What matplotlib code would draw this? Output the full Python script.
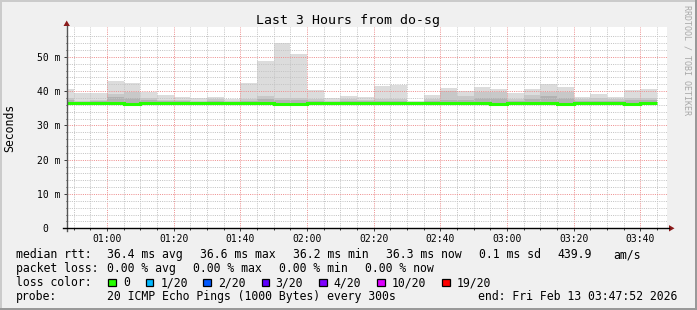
import matplotlib
matplotlib.use("Agg")
import matplotlib.pyplot as plt
import numpy as np
from matplotlib.patches import Rectangle, Polygon
from matplotlib.lines import Line2D

# ---------------- data (ms), one value per 5-minute step ----------------
step_start_min = 45          # first step starts 00:45
step_len_min = 5
view_start_min = 47 + 52/60  # 00:47:52
view_end_min = 227 + 52/60   # 03:47:52

rtt_max = [40.6, 39.5, 39.5, 43.0, 42.4, 39.6, 39.0, 38.3, 37.9, 38.3, 37.7, 42.4,
           48.8, 53.9, 50.8, 40.3, 38.0, 38.6, 38.2, 41.5, 41.9, 37.1, 38.9, 40.9,
           40.0, 41.2, 40.6, 39.4, 40.6, 42.1, 41.2, 38.3, 39.2, 38.3, 40.3, 40.6]
rtt_upper = [38.1, 37.1, 37.3, 39.1, 39.6, 38.1, 37.3, 37.3, 37.1, 37.6, 37.2, 37.8,
             38.6, 38.1, 38.1, 37.6, 37.2, 37.6, 37.3, 37.8, 37.8, 36.9, 37.6, 40.0,
             38.6, 39.6, 39.6, 37.8, 38.8, 39.6, 39.6, 37.6, 37.9, 37.6, 38.1, 38.1]
rtt_inner = [37.3, 36.9, 37.0, 38.3, 38.1, 37.3, 37.0, 37.0, 36.9, 37.2, 36.9, 37.2,
             37.6, 37.3, 37.3, 37.1, 36.9, 37.1, 37.0, 37.2, 37.2, 36.7, 37.1, 37.3,
             37.4, 38.1, 38.1, 37.2, 37.6, 38.6, 38.1, 37.1, 37.2, 37.1, 37.3, 37.3]
rtt_median = [36.6, 36.4, 36.6, 36.6, 36.3, 36.4, 36.4, 36.4, 36.4, 36.6, 36.5, 36.4,
              36.4, 36.2, 36.2, 36.6, 36.4, 36.4, 36.4, 36.4, 36.4, 36.4, 36.6, 36.4,
              36.5, 36.4, 36.3, 36.5, 36.4, 36.6, 36.3, 36.4, 36.4, 36.4, 36.3, 36.4]
rtt_min = [36.2, 36.0, 36.2, 36.2, 35.9, 36.0, 36.0, 36.0, 36.0, 36.2, 36.1, 36.0,
           36.0, 35.8, 35.8, 36.2, 36.0, 36.0, 36.0, 36.0, 36.0, 36.0, 36.2, 36.0,
           36.1, 36.0, 35.9, 36.1, 36.0, 36.2, 35.9, 36.0, 36.0, 36.0, 35.6, 36.0]

x_tick_min = [60, 80, 100, 120, 140, 160, 180, 200, 220]
x_tick_labels = ["01:00", "01:20", "01:40", "02:00", "02:20", "02:40", "03:00", "03:20", "03:40"]
y_ticks = [0, 10, 20, 30, 40, 50]
y_tick_labels = ["0  ", "10 m", "20 m", "30 m", "40 m", "50 m"]
y_max = 58.6

title = "Last 3 Hours from do-sg"
loss_labels = ["0", "1/20", "2/20", "3/20", "4/20", "10/20", "19/20"]
loss_colors = ["#26ff00", "#00b8ff", "#0059ff", "#5e00ff", "#7e00ff", "#dd00ff", "#ff0000"]

# ---------------- figure ----------------
W, H = 697, 310
MONO = "DejaVu Sans Mono"
fig = plt.figure(figsize=(W / 100, H / 100), dpi=100)
fig.patch.set_facecolor("#f0f0f0")

px0, px1 = 66.7, 666.7
py_top, py_bot = 27.3, 228.3
ax = fig.add_axes([px0 / W, 1 - py_bot / H, (px1 - px0) / W, (py_bot - py_top) / H])
ax.set_facecolor("white")

edges = step_start_min + step_len_min * np.arange(len(rtt_max) + 1)
ax.stairs(rtt_max, edges, baseline=rtt_min, fill=True, color="#dcdcdc", lw=0, zorder=1)
ax.stairs(rtt_upper, edges, baseline=rtt_min, fill=True, color="#c8c8c8", lw=0, zorder=1.1)
ax.stairs(rtt_inner, edges, baseline=rtt_min, fill=True, color="#b2b2b2", lw=0, zorder=1.2)
ax.stairs(rtt_median, edges, baseline=None, color="#26ff00", lw=2.2, zorder=3)

ax.set_xlim(view_start_min, view_end_min)
ax.set_ylim(0, y_max)
ax.set_xticks(x_tick_min)
ax.set_xticklabels(x_tick_labels, family=MONO, fontsize=7)
ax.set_xticks(np.arange(50, 228, 5), minor=True)
ax.set_yticks(y_ticks)
ax.set_yticklabels(y_tick_labels, family=MONO, fontsize=7)
ax.set_yticks(np.arange(0, 58, 2), minor=True)
ax.tick_params(which="major", length=3 * 0.72, width=0.72, color="#404040", pad=2.2)
ax.tick_params(which="minor", length=1.5 * 0.72, width=0.72, color="#404040")
ax.tick_params(axis="y", pad=2.4)
for s in ax.spines.values():
    s.set_visible(False)
ax.set_axisbelow(False)
ax.grid(which="minor", color="#c4c4c4", linestyle=(0, (1, 1.2)), lw=0.72, zorder=2)
ax.grid(which="major", color="#ee9090", linestyle=(0, (1, 1.2)), lw=0.72, zorder=2.1)

ax.set_ylabel("Seconds", family=MONO, fontsize=8.3)
ax.yaxis.set_label_coords(-(px0 - 16.5) / (px1 - px0), 0.5)

# ---------------- overlay in pixel coordinates ----------------
ov = fig.add_axes([0, 0, 1, 1])
ov.set_xlim(0, W)
ov.set_ylim(H, 0)
ov.axis("off")

# frame shading
ov.add_patch(Rectangle((0, 0), W, 2, color="#cbcbcb", lw=0))
ov.add_patch(Rectangle((0, 0), 2, H, color="#cbcbcb", lw=0))
ov.add_patch(Rectangle((0, H - 2), W, 2, color="#999999", lw=0))
ov.add_patch(Rectangle((W - 2, 0), 2, H, color="#999999", lw=0))

# axes lines + arrows
ov.add_line(Line2D([px0, px0], [231, 25.5], color="#555555", lw=1.0))
ov.add_line(Line2D([62.7, 669], [py_bot, py_bot], color="#000000", lw=1.0))
ov.add_patch(Polygon([[px0 - 3.2, 26], [px0 + 3.2, 26], [px0, 20.5]], closed=True,
                     color="#8b1a1a", lw=0))
ov.add_patch(Polygon([[669, py_bot - 3.2], [669, py_bot + 3.2], [674.5, py_bot]], closed=True,
                     color="#8b1a1a", lw=0))

ov.text(348, 24.3, title, family=MONO, fontsize=9.5, ha="center", va="baseline")
ov.text(687.5, 5, "RRDTOOL / TOBI OETIKER", family=MONO, fontsize=6, rotation=-90,
        ha="center", va="top", color="#a8a8a8")

fs = 8.3
rows = [258.3, 272.3, 286.3, 300.3]
row1 = [(15.5, "median rtt:"), (106.8, "36.4 ms avg"), (199.5, "36.6 ms max"),
        (292.8, "36.2 ms min"), (385.5, "36.3 ms now"), (478.8, "0.1 ms sd"),
        (557.8, "439.9"), (613.5, "am/s")]
row2 = [(15.5, "packet loss:"), (106.8, "0.00 % avg"), (192.8, "0.00 % max"),
        (278.8, "0.00 % min"), (365.2, "0.00 % now")]
row4 = [(15.5, "probe:"), (106.8, "20 ICMP Echo Pings (1000 Bytes) every 300s"),
        (477.8, "end: Fri Feb 13 03:47:52 2026")]
for x, t in row1:
    ov.text(x, rows[0], t, family=MONO, fontsize=fs, va="baseline")
for x, t in row2:
    ov.text(x, rows[1], t, family=MONO, fontsize=fs, va="baseline")
for x, t in row4:
    ov.text(x, rows[3], t, family=MONO, fontsize=fs, va="baseline")
ov.text(15.5, rows[2], "loss color:", family=MONO, fontsize=fs, va="baseline")
box_x = [108.3, 145.7, 203.3, 261.7, 319.3, 377.3, 442.3]
lab_x = [122.8, 160.2, 217.8, 275.5, 333.5, 391.8, 456.8]
for bx, lx, lab, col in zip(box_x, lab_x, loss_labels, loss_colors):
    ov.add_patch(Rectangle((bx, 278.6), 7.2, 7.2, facecolor=col, edgecolor="black", lw=0.9))
    ov.text(lx, rows[2], lab, family=MONO, fontsize=fs, va="baseline")

fig.savefig("out.png", dpi=100, facecolor=fig.get_facecolor())
